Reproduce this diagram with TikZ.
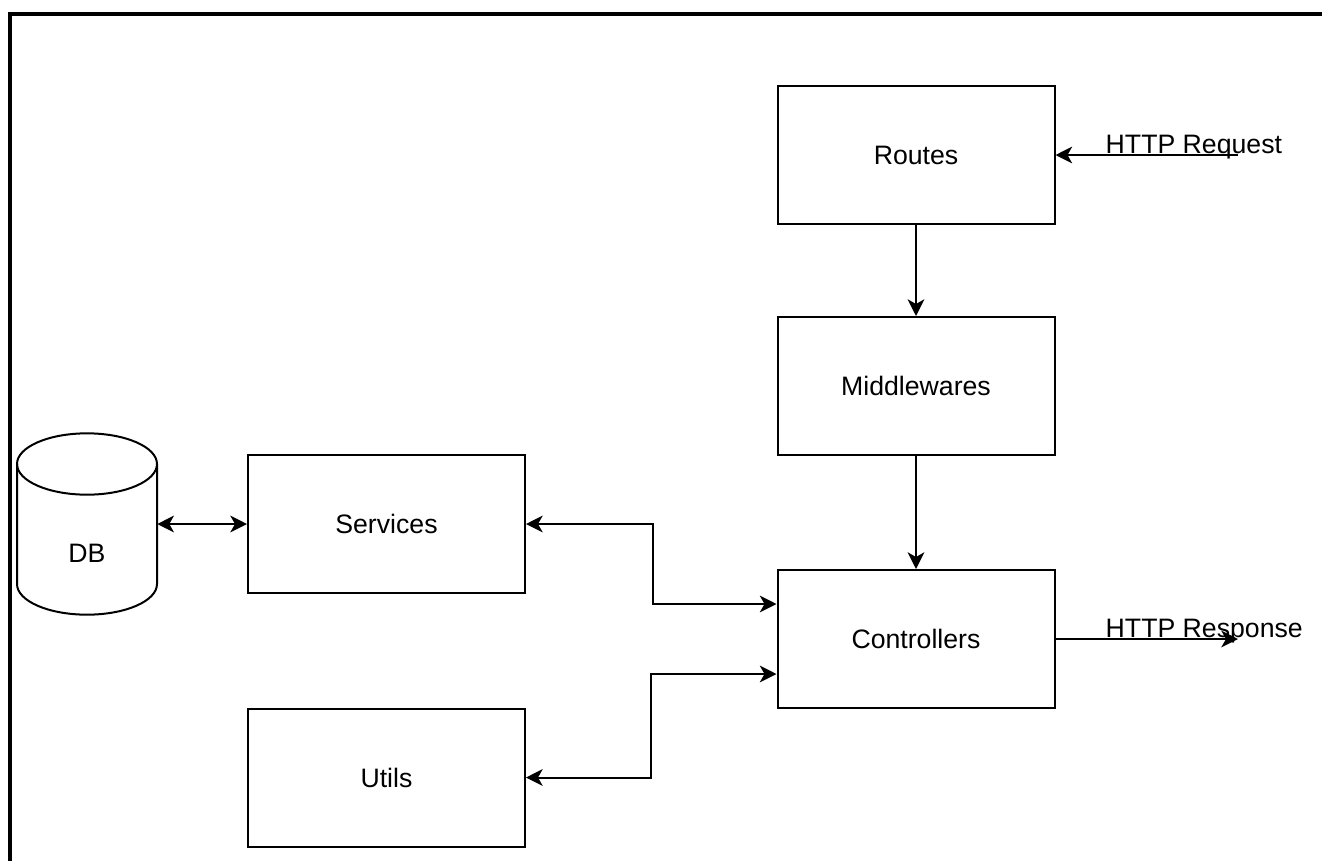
\documentclass[tikz,border=0pt]{standalone}
\usepackage{fontspec}
\setmainfont{Liberation Sans}
\usepackage{tikz}
\usetikzlibrary{arrows.meta}
\tikzset{box/.style={draw,line width=1.5pt,minimum width=207.75pt,minimum height=103.5pt,inner sep=0pt,font=\lbl},
link/.style={line width=1.5pt,-{Stealth[length=12.5pt,width=12.5pt,inset=3.5pt]}},
twoway/.style={line width=1.5pt,{Stealth[length=12.5pt,width=12.5pt,inset=3.5pt]}-{Stealth[length=12.5pt,width=12.5pt,inset=3.5pt]}}}
\newcommand{\lbl}{\fontsize{20}{24}\selectfont}

\begin{document}
\begin{tikzpicture}[x=0.75pt,y=-0.75pt]
\useasboundingbox (0,0) rectangle (1322,861);
\draw[line width=3pt] (10,875) -- (10,14) -- (1335,14);
% request path
\node[box] (routes) at (916,155) {Routes};
\node[box] (mid) at (916,386) {Middlewares};
\node[box] (ctrl) at (916,639) {Controllers};
\node[box] (svc) at (386.5,524) {Services};
\node[box] (utl) at (386.5,777.5) {Utils};
% database
\node[minimum width=105pt,minimum height=136.5pt,inner sep=0pt] (db) at (87,524) {};
\draw[line width=1.5pt] (17,464) -- (17,584) arc[start angle=180,end angle=360,x radius=52.5pt,y radius=23pt] -- (157,464);
\draw[line width=1.5pt] (87,464) ellipse[x radius=52.5pt,y radius=23pt];
\node[font=\lbl] (dbname) at (87,553) {DB};
\node[anchor=base west,font=\lbl] (reqtxt) at (1101,153) {HTTP Request};
\node[anchor=base west,font=\lbl] (restxt) at (1101,637) {HTTP Response};
\coordinate (req) at (1238,155);
\coordinate (res) at (1238,639);
\draw[link] (req) -- (routes.east);
\draw[link] (routes) -- (mid);
\draw[link] (mid) -- (ctrl);
\draw[link] (ctrl.east) -- (res);
\draw[twoway] (db.east) -- (svc.west);
\draw[twoway] (svc.east) -- ++(127,0) |- ([yshift=26.25pt]ctrl.west);
\draw[twoway] ([yshift=-26.25pt]ctrl.west) -- ++(-126,0) |- (utl.east);
\end{tikzpicture}
\end{document}
